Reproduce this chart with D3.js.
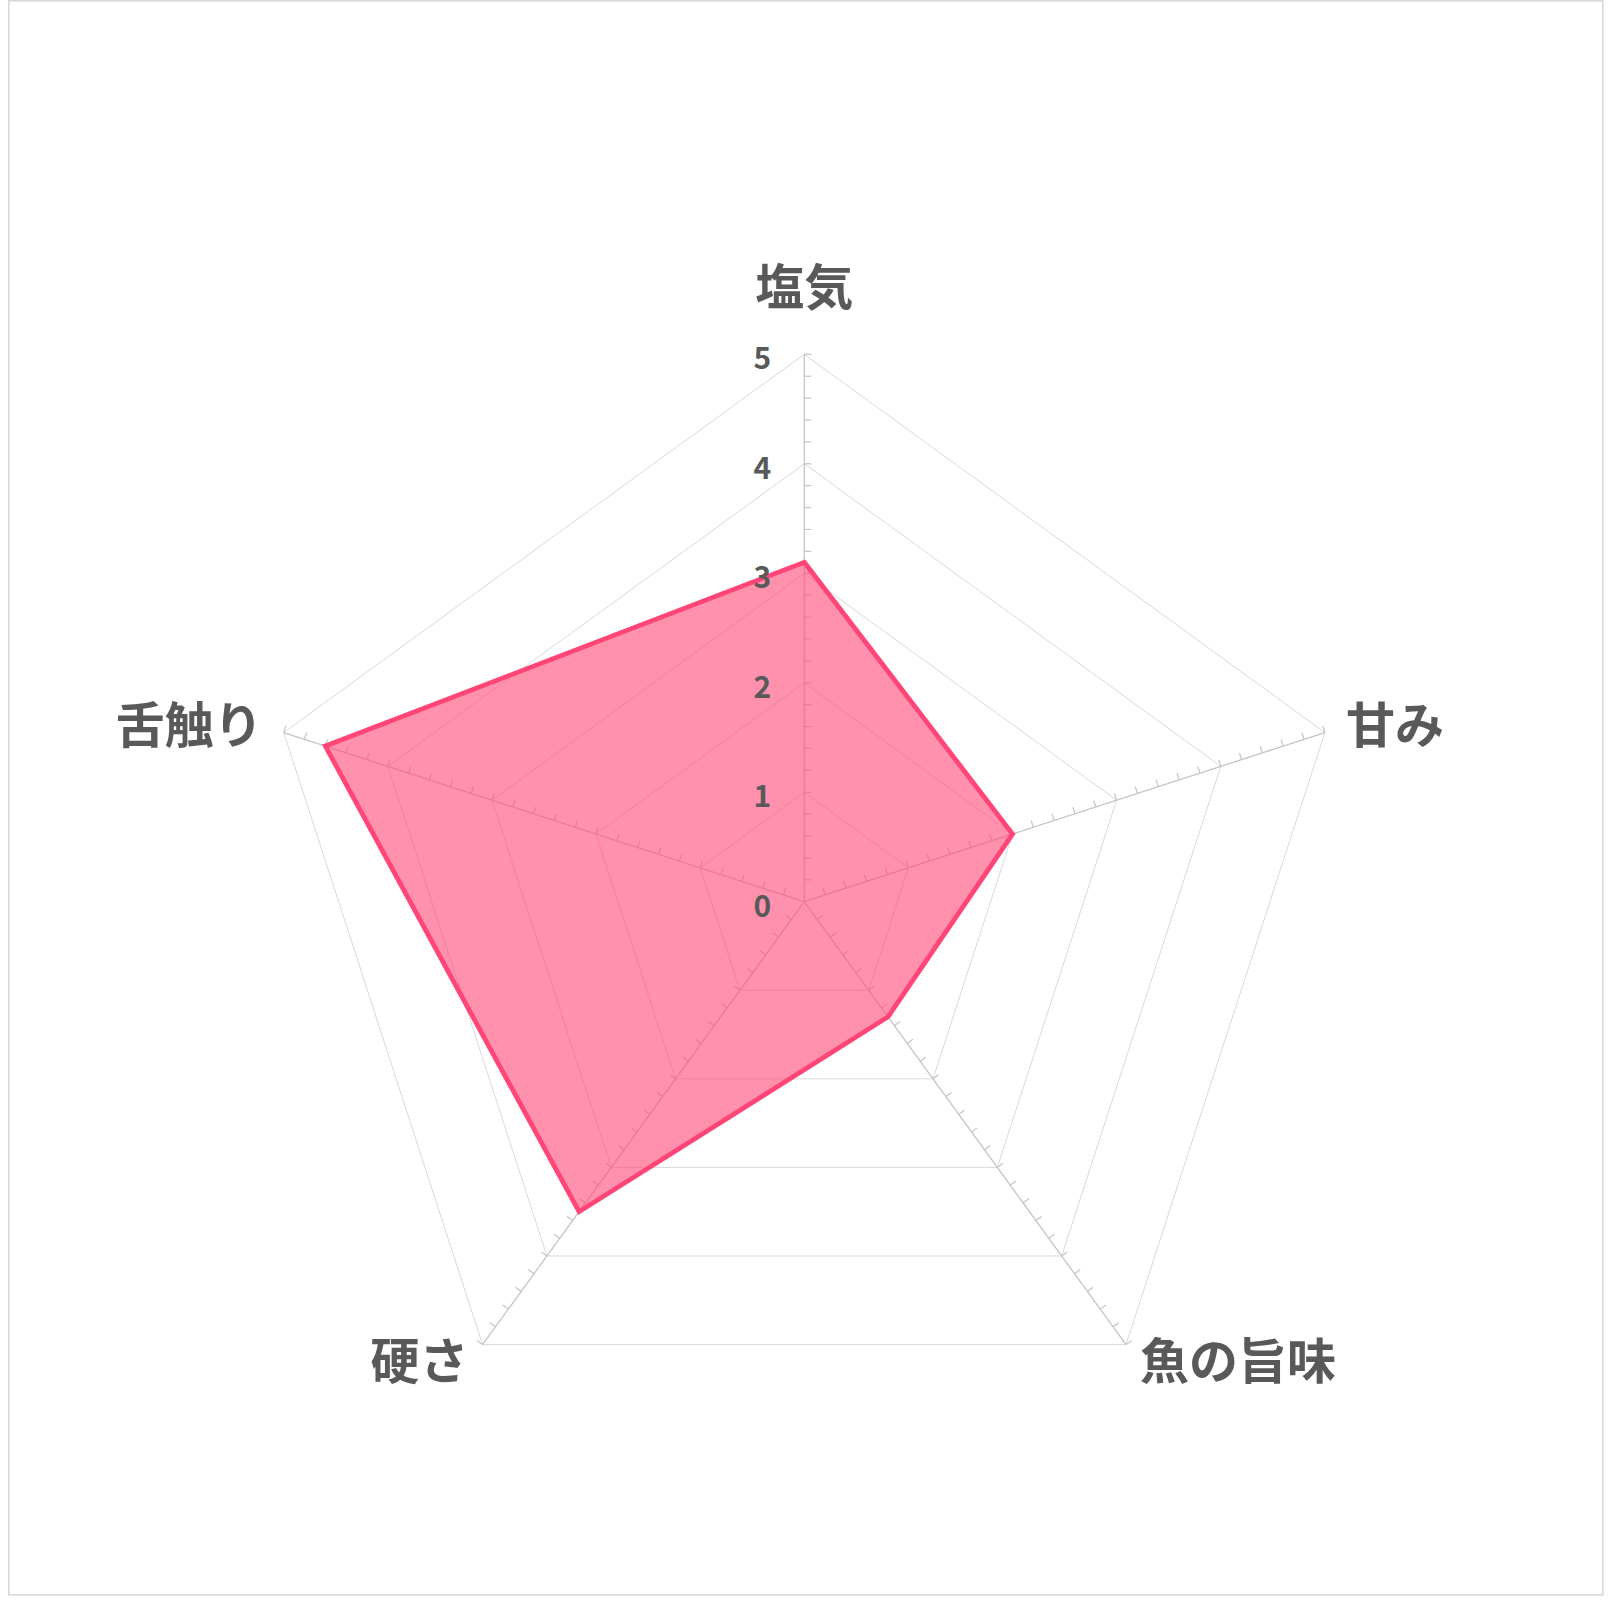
<!DOCTYPE html>
<html>
<head>
<meta charset="utf-8">
<script src="https://cdn.jsdelivr.net/npm/d3@7"></script>
<style>
  html, body { margin: 0; padding: 0; background: #fff; }
  svg { display: block; }
  .axisLabel, .tickLabel { font-family: "Noto Sans CJK JP", "Noto Sans", sans-serif; font-weight: bold; fill: #595959; }
</style>
</head>
<body>
<div class="chartContainer"></div>
<script>
// radar chart, one series
var categories = ["塩気", "甘み", "魚の旨味", "硬さ", "舌触り"];
var values = [3.1, 2.0, 1.3, 3.5, 4.6];
var tickValues = [0, 1, 2, 3, 4, 5];
var minorStep = 0.2;

var WIDTH = 1612, HEIGHT = 1612;
var CX = 804.3, CY = 901.7, RADIUS = 547.4;
var TICK_LEN = 7;

var svg = d3.select(".chartContainer")
    .append("svg")
    .attr("width", WIDTH)
    .attr("height", HEIGHT);

// outer frame
svg.append("rect")
    .attr("x", 8.8).attr("y", 0.8)
    .attr("width", 1594).attr("height", 1594)
    .attr("fill", "#fff")
    .attr("stroke", "#d9d9d9")
    .attr("stroke-width", 1.7);

var g = svg.append("g").attr("transform", "translate(" + CX + "," + CY + ")");

var r = d3.scaleLinear().domain([0, d3.max(tickValues)]).range([0, RADIUS]);
var angle = d3.scaleLinear().domain([0, categories.length]).range([-Math.PI / 2, 1.5 * Math.PI]);

function pt(i, v) {
    var a = angle(i);
    return [r(v) * Math.cos(a), r(v) * Math.sin(a)];
}

// grid rings
g.selectAll(".ring")
    .data(tickValues.filter(function(d){ return d > 0; }))
  .enter().append("polygon")
    .attr("class", "ring")
    .attr("points", function(v){
        return categories.map(function(c, i){ return pt(i, v).join(","); }).join(" ");
    })
    .attr("fill", "none")
    .attr("stroke", "#d9d9d9")
    .attr("stroke-width", 1);

// spokes
var spokes = g.selectAll(".spoke")
    .data(categories)
  .enter().append("g")
    .attr("class", "spoke");

spokes.append("line")
    .attr("x1", 0).attr("y1", 0)
    .attr("x2", function(d, i){ return pt(i, d3.max(tickValues))[0]; })
    .attr("y2", function(d, i){ return pt(i, d3.max(tickValues))[1]; })
    .attr("stroke", "#c4c4c4")
    .attr("stroke-width", 1.3);

// minor tick marks, drawn on the upper side of each spoke (right side for the vertical one)
var minorTicks = d3.range(1, Math.round(d3.max(tickValues) / minorStep) + 1).map(function(k){ return k * minorStep; });
spokes.each(function(d, i){
    var a = angle(i);
    var px = -Math.sin(a), py = Math.cos(a);
    if (py > 1e-6 || (Math.abs(py) < 1e-6 && px < 0)) { px = -px; py = -py; }
    d3.select(this).selectAll(".minor")
        .data(minorTicks)
      .enter().append("line")
        .attr("class", "minor")
        .attr("x1", function(v){ return pt(i, v)[0]; })
        .attr("y1", function(v){ return pt(i, v)[1]; })
        .attr("x2", function(v){ return pt(i, v)[0] + px * TICK_LEN; })
        .attr("y2", function(v){ return pt(i, v)[1] + py * TICK_LEN; })
        .attr("stroke", "#c4c4c4")
        .attr("stroke-width", 1.2);
});

// series area
g.append("polygon")
    .attr("points", values.map(function(v, i){ return pt(i, v).join(","); }).join(" "))
    .attr("fill", "#ff4b7d")
    .attr("fill-opacity", 0.61)
    .attr("stroke", "#ff4677")
    .attr("stroke-width", 4.8)
    .attr("stroke-linejoin", "miter");

// value labels on the first spoke
g.selectAll(".tickLabel")
    .data(tickValues)
  .enter().append("text")
    .attr("class", "tickLabel")
    .attr("x", -33)
    .attr("y", function(v){ return -r(v) + 2; })
    .attr("text-anchor", "end")
    .attr("dominant-baseline", "central")
    .style("font-size", "30px")
    .text(function(v){ return v; });

// category labels
g.selectAll(".axisLabel")
    .data(categories)
  .enter().append("text")
    .attr("class", "axisLabel")
    .attr("x", function(d, i){
        var p = pt(i, d3.max(tickValues)), c = Math.cos(angle(i));
        if (Math.abs(c) < 0.1) return p[0];
        var gap = Math.sin(angle(i)) > 0 ? 14 : 21;
        return p[0] + (c > 0 ? gap : -gap);
    })
    .attr("y", function(d, i){
        var p = pt(i, d3.max(tickValues)), c = Math.cos(angle(i)), s = Math.sin(angle(i));
        if (Math.abs(c) < 0.1) return p[1] - 71;
        return p[1] + (s > 0 ? 13 : -11);
    })
    .attr("text-anchor", function(d, i){
        var c = Math.cos(angle(i));
        if (Math.abs(c) < 0.1) return "middle";
        return c > 0 ? "start" : "end";
    })
    .attr("dominant-baseline", "central")
    .style("font-size", "49px")
    .text(function(d){ return d; });
</script>
</body>
</html>
